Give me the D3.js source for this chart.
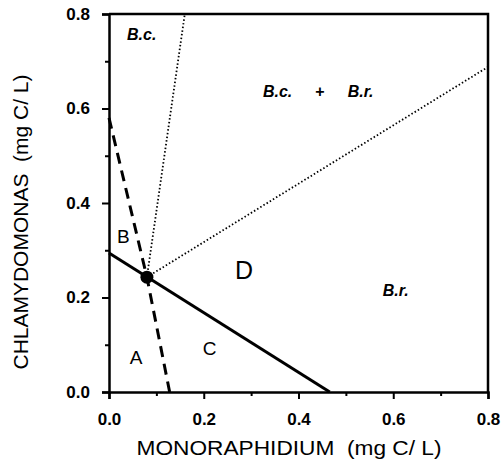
<!DOCTYPE html>
<html>
<head>
<meta charset="utf-8">
<script src="https://cdn.jsdelivr.net/npm/d3@7"></script>
<style>
    body { margin: 0; background: #fff; }
    svg { display: block; font-family: "Liberation Sans", Arial, Helvetica, sans-serif; }
</style>
</head>
<body>
<div id="chart"></div>
<script>
// Axis ticks
const majorTicks = [0, 0.2, 0.4, 0.6, 0.8];
const minorTicks = [0.1, 0.3, 0.5, 0.7];

// Boundary lines (Monoraphidium, Chlamydomonas) in mg C/L
const solidLine = [[0, 0.294], [0.466, 0]];
const dashedLine = [[0, 0.58], [0.08, 0.243], [0.128, 0]];
const dottedUp = [[0.08, 0.243], [0.16, 0.8]];
const dottedRight = [[0.08, 0.243], [0.8, 0.688]];
const equilibrium = [0.08, 0.243];

// Region labels
const regionNames = ['B.c.', 'B.c.', '+', 'B.r.', 'B', 'A', 'C', 'D', 'B.r.'];
const regionX = [0.038, 0.325, 0.445, 0.504, 0.017, 0.044, 0.198, 0.266, 0.578];
const regionY = [0.745, 0.624, 0.624, 0.624, 0.315, 0.059, 0.078, 0.239, 0.203];
const regionKind = ['sp', 'sp', 'plus', 'sp', 'big', 'big', 'big', 'huge', 'sp'];

const width = 501, height = 461;
const margin = { top: 14, right: 13, bottom: 69, left: 109 };

const svg = d3.select('#chart').append('svg')
    .attr('width', width)
    .attr('height', height);

const x = d3.scaleLinear().domain([0, 0.8]).range([margin.left, width - margin.right]);
const y = d3.scaleLinear().domain([0, 0.8]).range([height - margin.bottom, margin.top]);

// frame (top and right)
svg.append('path')
    .attr('d', `M${x(0)},${y(0.8)}H${x(0.8)}V${y(0)}`)
    .attr('fill', 'none')
    .attr('stroke', '#000')
    .attr('stroke-width', 2.5);

// axes
const fmt = d3.format('.1f');
const xAxis = svg.append('g')
    .attr('transform', `translate(0,${y(0)})`)
    .call(d3.axisBottom(x).tickValues(majorTicks).tickFormat(fmt).tickSize(7).tickPadding(14));
const yAxis = svg.append('g')
    .attr('transform', `translate(${x(0)},0)`)
    .call(d3.axisLeft(y).tickValues(majorTicks).tickFormat(fmt).tickSize(7).tickPadding(12));

// minor ticks
svg.append('g')
    .attr('transform', `translate(0,${y(0)})`)
    .call(d3.axisBottom(x).tickValues(minorTicks).tickFormat('').tickSize(4))
    .select('.domain').remove();
svg.append('g')
    .attr('transform', `translate(${x(0)},0)`)
    .call(d3.axisLeft(y).tickValues(minorTicks).tickFormat('').tickSize(4))
    .select('.domain').remove();

svg.selectAll('.domain').attr('stroke-width', 2.5);
svg.selectAll('.tick line').attr('stroke-width', 2);
[xAxis, yAxis].forEach(a => a.selectAll('text')
    .style('font-family', '"Liberation Sans", Arial, sans-serif')
    .style('font-size', '17px')
    .style('font-weight', 'bold')
    .attr('fill', '#000'));

// axis titles
svg.append('text')
    .attr('x', 289)
    .attr('y', 455)
    .attr('text-anchor', 'middle')
    .attr('textLength', 305)
    .attr('lengthAdjust', 'spacingAndGlyphs')
    .style('font-size', '20px')
    .style('white-space', 'pre')
    .text('MONORAPHIDIUM  (mg C/ L)');

svg.append('text')
    .attr('transform', 'translate(28,222) rotate(-90)')
    .attr('text-anchor', 'middle')
    .attr('textLength', 295)
    .attr('lengthAdjust', 'spacingAndGlyphs')
    .style('font-size', '20px')
    .style('white-space', 'pre')
    .text('CHLAMYDOMONAS  (mg C/ L)');

// boundary lines
const line = d3.line().x(d => x(d[0])).y(d => y(d[1]));

[dottedUp, dottedRight].forEach(pts => {
    svg.append('path')
        .attr('d', line(pts))
        .attr('fill', 'none')
        .attr('stroke', '#000')
        .attr('stroke-width', 1.8)
        .attr('stroke-dasharray', '1.5,2.2');
});

svg.append('path')
    .attr('d', line(dashedLine))
    .attr('fill', 'none')
    .attr('stroke', '#000')
    .attr('stroke-width', 3)
    .attr('stroke-dasharray', '11,7');

svg.append('path')
    .attr('d', line(solidLine))
    .attr('fill', 'none')
    .attr('stroke', '#000')
    .attr('stroke-width', 3);

svg.append('circle')
    .attr('cx', x(equilibrium[0]))
    .attr('cy', y(equilibrium[1]))
    .attr('r', 6.5)
    .attr('fill', '#000');

// region labels
const labelStyle = {
    sp: { size: 16, weight: 'bold', italic: true },
    plus: { size: 16, weight: 'bold', italic: false },
    big: { size: 19, weight: 'normal', italic: false },
    huge: { size: 25, weight: 'normal', italic: false }
};

svg.append('g')
    .selectAll('text')
    .data(regionNames.map((name, i) => ({ name, x: regionX[i], y: regionY[i], kind: regionKind[i] })))
    .join('text')
    .attr('x', d => x(d.x))
    .attr('y', d => y(d.y))
    .attr('text-anchor', d => d.kind === 'plus' ? 'middle' : 'start')
    .style('font-size', d => labelStyle[d.kind].size + 'px')
    .style('font-weight', d => labelStyle[d.kind].weight)
    .style('font-style', d => labelStyle[d.kind].italic ? 'italic' : 'normal')
    .text(d => d.name);
</script>
</body>
</html>
